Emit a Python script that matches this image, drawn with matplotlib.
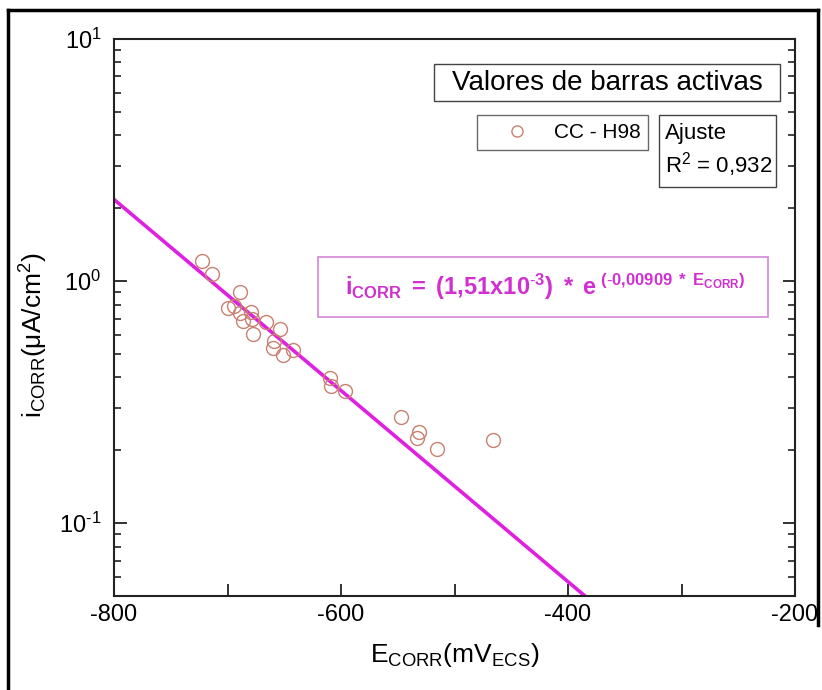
import numpy as np
import matplotlib
matplotlib.use("Agg")
import matplotlib.pyplot as plt
from matplotlib.lines import Line2D
from matplotlib.patches import Rectangle
from matplotlib.ticker import FixedLocator, NullFormatter, LogLocator, FuncFormatter

plt.rcParams['font.family'] = ['Liberation Sans', 'DejaVu Sans']
plt.rcParams['mathtext.fontset'] = 'custom'
plt.rcParams['mathtext.rm'] = 'Liberation Sans'
plt.rcParams['mathtext.it'] = 'Liberation Sans'
plt.rcParams['mathtext.bf'] = 'Liberation Sans:bold'
plt.rcParams['axes.unicode_minus'] = False

# Corrosion potential (mV vs ECS) and corrosion current density (uA/cm2)
e_corr = [-722.7, -713.4, -689.0, -699.8, -694.3, -689.0, -679.3, -686.6,
          -678.7, -677.3, -666.4, -653.7, -658.8, -659.6, -650.8, -642.0,
          -609.7, -608.8, -596.5, -547.4, -531.0, -533.3, -515.7, -465.8]
i_corr = [1.21, 1.066, 0.903, 0.776, 0.788, 0.740, 0.746, 0.684,
          0.697, 0.606, 0.677, 0.634, 0.565, 0.530, 0.493, 0.517,
          0.397, 0.368, 0.351, 0.275, 0.238, 0.225, 0.203, 0.220]

# Exponential fit i = A * exp(B * E)
fit_a = 1.51e-3
fit_b = -0.00909
r2_text = "0,932"

x_ticks = [-800, -700, -600, -500, -400, -300, -200]
x_labels = ["-800", "", "-600", "", "-400", "", "-200"]

W, H = 822, 690
fig = plt.figure(figsize=(W / 100, H / 100), dpi=100)
ax = fig.add_axes([114 / W, 1 - 596 / H, (795 - 114) / W, (596 - 39) / H])

marker_col = '#C88070'
line_col = '#E020E0'
box_col = '#444444'


def fig_box(x0, y0, x1, y1, ec, lw=1.0):
    """Rectangle given in pixel coordinates measured from the top-left."""
    fig.add_artist(Rectangle((x0 / W, 1 - y1 / H), (x1 - x0) / W, (y1 - y0) / H,
                             transform=fig.transFigure, fc='white', ec=ec, lw=lw,
                             zorder=5))


ax.plot(e_corr, i_corr, linestyle='none', marker='o', markersize=10,
        markerfacecolor='none', markeredgecolor=marker_col, markeredgewidth=1.0,
        zorder=3, label="CC - H98")

e_fit = np.linspace(-800, -200, 400)
ax.plot(e_fit, fit_a * np.exp(fit_b * e_fit), color=line_col, lw=2.6, zorder=2)

ax.set_yscale('log')
ax.set_xlim(-800, -200)
ax.set_ylim(0.05, 10)

ax.xaxis.set_major_locator(FixedLocator(x_ticks))
ax.set_xticklabels(x_labels)
ax.yaxis.set_major_locator(LogLocator(base=10, numticks=10))
ax.yaxis.set_minor_locator(LogLocator(base=10, subs=np.arange(2, 10), numticks=20))
ax.yaxis.set_minor_formatter(NullFormatter())
ax.yaxis.set_major_formatter(
    FuncFormatter(lambda v, p: r"10$^{\text{%d}}$" % round(np.log10(v))))

ax.tick_params(axis='both', which='major', direction='in', length=9, width=1.3,
               labelsize=17, right=True, top=False, color='#222222')
ax.tick_params(axis='y', which='minor', direction='in', length=5, width=1.2,
               right=True, color='#222222')
ax.tick_params(axis='x', pad=6)
ax.tick_params(axis='y', pad=9)
for s in ax.spines.values():
    s.set_linewidth(1.5)
    s.set_color('#222222')

ax.set_xlabel(r"E$_{\mathrm{CORR}}$(mV$_{\mathrm{ECS}}$)", fontsize=19)
ax.xaxis.set_label_coords(0.5, -(641 - 596) / (596 - 39))
ax.set_ylabel(r"i$_{\mathrm{CORR}}$($\mathrm{\mu}$A/cm$^{2}$)", fontsize=19)
ax.yaxis.set_label_coords(-(114 - 50) / (795 - 114), (596 - 335) / (596 - 39))

# Title box
fig_box(434, 64, 780, 101, box_col)
fig.text(607 / W, 1 - 83 / H, "Valores de barras activas", fontsize=20,
         ha='center', va='center', zorder=6)

# Legend box
leg = ax.legend(loc='upper left',
                bbox_to_anchor=((477 - 114) / (795 - 114), 1 - (115 - 39) / (596 - 39)),
                fontsize=15, frameon=True, fancybox=False, edgecolor=box_col,
                markerscale=0.8, handlelength=3.1, handletextpad=0.2,
                borderpad=0.38, borderaxespad=0)
leg.get_frame().set_linewidth(1.0)

# Fit quality box
fig_box(659, 115, 776, 187, box_col)
fig.text(665 / W, 1 - 151 / H, "Ajuste\nR$^{2}$ = " + r2_text, fontsize=16,
         ha='left', va='center', linespacing=1.3, zorder=6)

# Fit equation box
fig_box(318, 257, 768, 317, '#D890D8', lw=1.3)
eq = (r"$\mathbf{i_{CORR}\ =\ (1{,}51x10^{\text{-}3})\ *\ "
      r"e^{\ (\text{-}0{,}00909\ *\ E_{CORR})}}$")
fig.text(545 / W, 1 - 287 / H, eq, fontsize=17, color='#D030D0',
         ha='center', va='center', zorder=6)

# Outer frame
frame_kw = dict(color='black', lw=2.5, transform=fig.transFigure)
fig.add_artist(Line2D([8 / W, 8 / W], [0, 1 - 10 / H], **frame_kw))
fig.add_artist(Line2D([8 / W, 818 / W], [1 - 10 / H, 1 - 10 / H], **frame_kw))
fig.add_artist(Line2D([818 / W, 818 / W], [1 - 10 / H, 1 - 625 / H], **frame_kw))

fig.savefig("out.png", dpi=100)
